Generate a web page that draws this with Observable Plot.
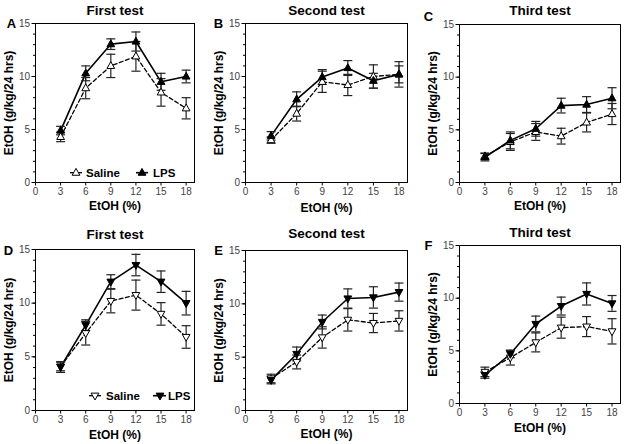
<!DOCTYPE html>
<html><head><meta charset="utf-8">
<script src="https://cdn.jsdelivr.net/npm/d3@7"></script>
<script src="https://cdn.jsdelivr.net/npm/@observablehq/plot@0.6"></script>
<style>
body{margin:0;background:#fff;}
#chart{position:relative;width:624px;height:444px;overflow:hidden;background:#fff;}
#chart svg{position:absolute;}
</style></head><body><div id="chart"></div>
<script>
// ---- data ----
const conc = [3, 6, 9, 12, 15, 18];
const xTicks = [0, 3, 6, 9, 12, 15, 18];
const yTicks = [0, 5, 10, 15];
const yMinor = [0,1,2,3,4,5,6,7,8,9,10,11,12,13,14,15];
const titles = ["First test", "Second test", "Third test", "First test", "Second test", "Third test"];
const letters = ["A", "B", "C", "D", "E", "F"];
const groups = ["Saline", "LPS"];

const salineA = [4.3, 8.9, 11.0, 11.9, 8.5, 7.0];
const salineAErr = [0.45, 1.0, 1.1, 1.4, 1.3, 1.0];
const lpsA = [4.9, 10.3, 13.05, 13.3, 9.5, 10.0];
const lpsAErr = [0.4, 0.7, 0.5, 0.9, 0.8, 0.6];

const salineB = [4.0, 6.5, 9.5, 9.2, 10.0, 10.2];
const salineBErr = [0.3, 0.7, 1.0, 1.0, 1.1, 1.2];
const lpsB = [4.4, 7.85, 9.95, 10.8, 9.6, 10.2];
const lpsBErr = [0.4, 0.7, 0.7, 0.7, 0.7, 0.8];

const salineC = [2.5, 3.85, 4.8, 4.4, 5.7, 6.5];
const salineCErr = [0.3, 0.8, 0.8, 0.75, 0.9, 1.0];
const lpsC = [2.4, 4.0, 5.1, 7.3, 7.4, 8.0];
const lpsCErr = [0.35, 0.8, 0.7, 0.7, 0.75, 1.0];

const salineD = [4.1, 7.2, 10.2, 10.75, 9.0, 6.85];
const salineDErr = [0.4, 1.1, 1.1, 1.4, 1.05, 1.05];
const lpsD = [4.05, 7.95, 12.0, 13.55, 12.0, 10.0];
const lpsDErr = [0.5, 0.5, 0.65, 1.0, 1.0, 1.1];

const salineE = [3.0, 4.55, 6.85, 8.5, 8.2, 8.4];
const salineEErr = [0.4, 0.65, 1.0, 1.05, 0.9, 0.95];
const lpsE = [2.85, 5.3, 8.3, 10.5, 10.6, 11.1];
const lpsEErr = [0.35, 0.65, 0.65, 0.9, 1.0, 0.85];

const salineF = [3.0, 4.35, 5.8, 7.2, 7.3, 6.85];
const salineFErr = [0.45, 0.7, 0.9, 1.0, 0.95, 1.2];
const lpsF = [2.7, 4.7, 7.55, 9.25, 10.4, 9.5];
const lpsFErr = [0.3, 0.35, 0.75, 0.85, 1.05, 0.75];

const series = [
  [salineA, salineAErr, lpsA, lpsAErr],
  [salineB, salineBErr, lpsB, lpsBErr],
  [salineC, salineCErr, lpsC, lpsCErr],
  [salineD, salineDErr, lpsD, lpsDErr],
  [salineE, salineEErr, lpsE, lpsEErr],
  [salineF, salineFErr, lpsF, lpsFErr]
];

// ---- layout ----
const layout = [
  {left: 0,   top: 0,   width: 205, height: 222, mt: 23, mr: 11, mb: 40, ml: 35, tdy: -13, ldx: -24, ldy: 0,  xlo: 27},
  {left: 205, top: 0,   width: 209, height: 222, mt: 23, mr: 7,  mb: 40, ml: 40, tdy: -13, ldx: -27, ldy: 0,  xlo: 29},
  {left: 414, top: 0,   width: 210, height: 222, mt: 24, mr: 4,  mb: 40, ml: 45, tdy: -14, ldx: -31, ldy: -8, xlo: 27},
  {left: 0,   top: 222, width: 205, height: 222, mt: 27, mr: 11, mb: 34, ml: 35, tdy: -15, ldx: -27, ldy: 1,  xlo: 28},
  {left: 205, top: 222, width: 209, height: 222, mt: 28, mr: 7,  mb: 34, ml: 40, tdy: -17, ldx: -27, ldy: 0,  xlo: 27},
  {left: 414, top: 222, width: 210, height: 222, mt: 23, mr: 4,  mb: 41, ml: 45, tdy: -13, ldx: -31, ldy: 0,  xlo: 28}
];

const FONT = '"Liberation Sans", Arial, Helvetica, sans-serif';

const triUp = {draw(ctx, size) { const r = Math.sqrt(size / Math.PI); ctx.moveTo(0, -r); ctx.lineTo(0.9 * r, 0.6 * r); ctx.lineTo(-0.9 * r, 0.6 * r); ctx.closePath(); }};
const triDown = {draw(ctx, size) { const r = Math.sqrt(size / Math.PI); ctx.moveTo(0, r); ctx.lineTo(0.9 * r, -0.6 * r); ctx.lineTo(-0.9 * r, -0.6 * r); ctx.closePath(); }};
const cap = {draw(ctx, size) { const r = Math.sqrt(size / Math.PI); ctx.moveTo(-r, 0); ctx.lineTo(r, 0); }};

const chart = document.getElementById("chart");

series.forEach(([sal, salE, lps, lpsE], k) => {
  const L = layout[k];
  const sym = k < 3 ? triUp : triDown;
  const salRows = conc.map((x, i) => ({x, y: sal[i], e: salE[i], g: groups[0]}));
  const lpsRows = conc.map((x, i) => ({x, y: lps[i], e: lpsE[i], g: groups[1]}));
  const rows = salRows.concat(lpsRows);
  const svg = Plot.plot({
    width: L.width, height: L.height,
    marginTop: L.mt, marginRight: L.mr, marginBottom: L.mb, marginLeft: L.ml,
    style: {fontFamily: FONT, fontSize: "10px", background: "white", color: "black"},
    x: {domain: [0, 19]},
    y: {domain: [0, 15]},
    marks: [
      Plot.axisY(yMinor, {tickSize: 2, tickFormat: () => "", label: null, strokeWidth: 1}),
      Plot.axisY(yTicks, {tickSize: 3.5, tickPadding: 2, label: null, fill: "#444", stroke: "black"}),
      Plot.axisY([], {tickSize: 0, label: "EtOH (g/kg/24 hrs)", labelAnchor: "center", labelArrow: false, labelOffset: 31, fontSize: 12, fontWeight: "bold", fill: "black"}),
      Plot.axisX(xTicks, {tickSize: 3.5, tickPadding: 1.5, label: null, fill: "#444", stroke: "black"}),
      Plot.axisX([], {tickSize: 0, label: "EtOH (%)", labelAnchor: "center", labelArrow: false, labelOffset: L.xlo, fontSize: 12, fontWeight: "bold", fill: "black"}),
      Plot.frame({stroke: "black", strokeWidth: 1}),
      Plot.line(salRows, {x: "x", y: "y", stroke: "black", strokeWidth: 1.3, strokeDasharray: "4,2.5"}),
      Plot.line(lpsRows, {x: "x", y: "y", stroke: "black", strokeWidth: 1.6}),
      Plot.ruleX(rows, {x: "x", y1: d => d.y - d.e, y2: d => d.y + d.e, stroke: "#222", strokeWidth: 1.2}),
      Plot.dot(rows, {x: "x", y: d => d.y - d.e, symbol: cap, r: 4.5, stroke: "#222", strokeWidth: 1.2}),
      Plot.dot(rows, {x: "x", y: d => d.y + d.e, symbol: cap, r: 4.5, stroke: "#222", strokeWidth: 1.2}),
      Plot.dot(salRows, {x: "x", y: "y", symbol: sym, r: 4.3, fill: "white", stroke: "black", strokeWidth: 1}),
      Plot.dot(lpsRows, {x: "x", y: "y", symbol: sym, r: 4.3, fill: "black", stroke: "black", strokeWidth: 1}),
      Plot.text([titles[k]], {frameAnchor: "top", dy: L.tdy, lineAnchor: "middle", fontSize: 13.5, fontWeight: "bold", fill: "black"}),
      Plot.text([letters[k]], {frameAnchor: "top-left", dx: L.ldx, dy: L.ldy, textAnchor: "middle", lineAnchor: "middle", fontSize: 13, fontWeight: "bold", fill: "black"})
    ]
  });
  svg.style.position = "absolute";
  svg.style.left = L.left + "px";
  svg.style.top = L.top + "px";
  chart.appendChild(svg);
});

// ---- legends (panels A and D) ----
const legendLayout = [
  {y: 172.7, sym: triUp, items: [{x1: 70, x2: 82, sx: 76, tx: 86}, {x1: 136, x2: 148, sx: 142, tx: 153}]},
  {y: 395.7, sym: triDown, items: [{x1: 89, x2: 101, sx: 95, tx: 106}, {x1: 153, x2: 166, sx: 160, tx: 168}]}
];
const overlay = d3.select(chart).append("svg")
  .attr("width", 624).attr("height", 444)
  .style("left", "0px").style("top", "0px").style("pointer-events", "none");
legendLayout.forEach(lg => {
  lg.items.forEach((it, i) => {
    const g = overlay.append("g");
    g.append("line").attr("x1", it.x1).attr("x2", it.x2).attr("y1", lg.y).attr("y2", lg.y)
      .attr("stroke", "black").attr("stroke-width", i === 0 ? 1.3 : 1.6);
    g.append("path").attr("d", d3.symbol(lg.sym, Math.PI * 4.3 * 4.3)())
      .attr("transform", `translate(${it.sx},${lg.y})`)
      .attr("fill", i === 0 ? "white" : "black").attr("stroke", "black").attr("stroke-width", 1);
    g.append("text").attr("x", it.tx).attr("y", lg.y).attr("dy", "0.36em")
      .attr("font-family", FONT).attr("font-size", 11.5).attr("font-weight", "bold")
      .text(groups[i]);
  });
});
</script></body></html>
